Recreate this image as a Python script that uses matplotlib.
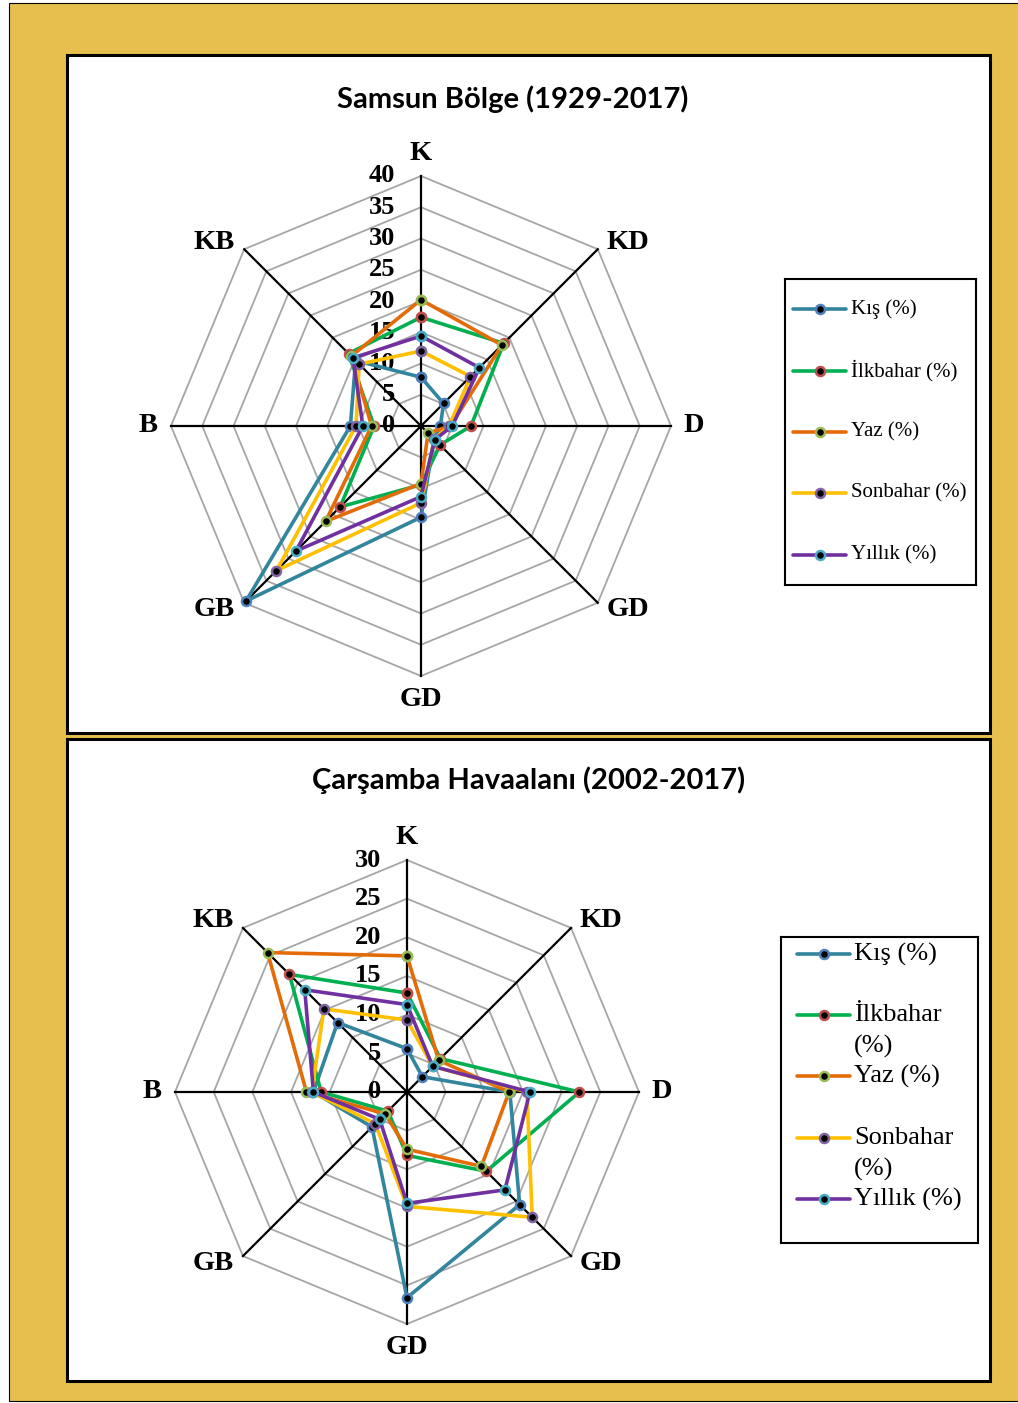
import numpy as np
import matplotlib.pyplot as plt
from matplotlib.patches import Rectangle

W, H = 1018, 1403

directions = ['K', 'KD', 'D', 'GD', 'GD', 'GB', 'B', 'KB']
series_names = ['Kış (%)', 'İlkbahar (%)', 'Yaz (%)', 'Sonbahar (%)', 'Yıllık (%)']
series_names_wrapped = ['Kış (%)', 'İlkbahar\n(%)', 'Yaz (%)', 'Sonbahar\n(%)', 'Yıllık (%)']
line_colors = ['#31859C', '#00B050', '#E36C09', '#FFC000', '#7030A0']
edge_colors = ['#4F81BD', '#C0504D', '#9BBB59', '#8064A2', '#4BACC6']

# Samsun Bölge (1929-2017), order K, KD, D, GD, G, GB, B, KB
samsun_kis = [7.8, 5.1, 3.1, 3.0, 14.6, 39.6, 11.3, 14.8]
samsun_ilkbahar = [17.4, 18.7, 8.0, 4.3, 9.4, 18.3, 7.5, 16.4]
samsun_yaz = [20.2, 18.3, 4.7, 1.6, 9.2, 21.6, 7.9, 15.8]
samsun_sonbahar = [12.0, 11.2, 4.5, 3.0, 12.3, 32.7, 10.4, 14.0]
samsun_yillik = [14.4, 13.2, 5.0, 3.1, 11.3, 28.3, 9.3, 15.4]

# Çarşamba Havaalanı (2002-2017)
carsamba_kis = [5.6, 2.8, 13.3, 20.6, 26.6, 6.4, 12.1, 12.7]
carsamba_ilkbahar = [12.8, 6.1, 22.3, 14.5, 8.2, 3.5, 11.1, 21.5]
carsamba_yaz = [17.6, 5.8, 13.2, 13.6, 7.4, 4.0, 13.0, 25.5]
carsamba_sonbahar = [9.3, 4.7, 15.5, 22.9, 14.8, 5.8, 12.3, 15.2]
carsamba_yillik = [11.3, 4.7, 15.9, 17.9, 14.4, 5.0, 12.1, 18.7]

SERIF = 'Liberation Serif'
LW = 2.6
MS = 6.5


def px_rect(left, top, right, bottom):
    return [left / W, 1 - bottom / H, (right - left) / W, (bottom - top) / H]


def draw_radar(fig, cx, cy, ring_px, rmax, step, series):
    scale = ring_px / rmax
    half = 300
    ax = fig.add_axes(px_rect(cx - half, cy - half, cx + half, cy + half))
    lim = half / scale
    ax.set_xlim(-lim, lim)
    ax.set_ylim(-lim, lim)
    ax.set_axis_off()

    theta = np.deg2rad(90 - 45 * np.arange(len(directions)))
    ux, uy = np.cos(theta), np.sin(theta)
    cux, cuy = np.append(ux, ux[0]), np.append(uy, uy[0])

    for r in np.arange(step, rmax + step, step):
        ax.plot(cux * r, cuy * r, color='#A6A6A6', lw=1.3, zorder=1)
    for x, y in zip(ux, uy):
        ax.plot([0, x * rmax], [0, y * rmax], color='black', lw=1.6, zorder=2)

    for r in np.arange(0, rmax + step, step):
        ax.text(-26 / scale, r, f'{r:g}', ha='right', va='center',
                fontsize=19, fontweight='bold', family=SERIF, zorder=2.5)

    for name, x, y in zip(directions, ux, uy):
        if abs(x) < 1e-6 or abs(y) < 1e-6:
            lx, ly = x * (ring_px + 23), y * (ring_px + 23)
        else:
            lx = np.sign(x) * (ring_px * 0.7071 + 30)
            ly = np.sign(y) * (ring_px * 0.7071 + 7)
        ax.text(lx / scale, ly / scale, name, ha='center', va='center',
                fontsize=20.5, fontweight='bold', family=SERIF)

    for k, vals in enumerate(series):
        v = np.append(vals, vals[0])
        ax.plot(v * cux, v * cuy, color=line_colors[k], lw=LW, marker='o',
                ms=MS, mfc='black', mec=edge_colors[k], mew=1.8, zorder=3 + k)
    return ax


def draw_legend(fig, left, top, right, bottom, names, rows_y, line_x, text_x,
                font_size, line_gap):
    lax = fig.add_axes(px_rect(left, top, right, bottom))
    lax.set_xlim(0, right - left)
    lax.set_ylim(bottom - top, 0)
    lax.set_xticks([])
    lax.set_yticks([])
    for s in lax.spines.values():
        s.set_linewidth(1.5)
    mx = (line_x[0] + line_x[1]) / 2
    for k, (name, y) in enumerate(zip(names, rows_y)):
        lax.plot(line_x, [y, y], color=line_colors[k], lw=LW, solid_capstyle='round')
        lax.plot([mx], [y], marker='o', ms=MS, mfc='black', mec=edge_colors[k], mew=1.8)
        for j, part in enumerate(name.split('\n')):
            lax.text(text_x, y + j * line_gap, part, va='center', ha='left',
                     fontsize=font_size, family=SERIF)
    return lax


fig = plt.figure(figsize=(W / 100, H / 100), dpi=100, facecolor='white')

fig.patches.append(Rectangle((9 / W, 1 - 1401 / H), 1.1, (1401 - 3) / H,
                             transform=fig.transFigure, facecolor='#E6BF4F',
                             edgecolor='black', lw=0.8, zorder=-10))
for top, bottom in [(55, 733), (739, 1381)]:
    fig.patches.append(Rectangle((67 / W, 1 - bottom / H), (990 - 67) / W,
                                 (bottom - top) / H, transform=fig.transFigure,
                                 facecolor='white', edgecolor='black', lw=2.2,
                                 zorder=-5))

fig.text(513 / W, 1 - 99 / H, 'Samsun Bölge (1929-2017)', ha='center', va='center',
         fontsize=21, fontweight='bold', family='Lato')
fig.text(529 / W, 1 - 780 / H, 'Çarşamba Havaalanı (2002-2017)', ha='center',
         va='center', fontsize=21, fontweight='bold', family='Lato')

draw_radar(fig, 421, 426, 250, 40, 5,
           [samsun_kis, samsun_ilkbahar, samsun_yaz, samsun_sonbahar, samsun_yillik])
draw_radar(fig, 407, 1092, 232, 30, 5,
           [carsamba_kis, carsamba_ilkbahar, carsamba_yaz, carsamba_sonbahar,
            carsamba_yillik])

draw_legend(fig, 785, 279, 976, 585, series_names, [30, 92, 153, 214, 276],
            [8, 61], 66, 15, 0)
draw_legend(fig, 781, 937, 978, 1243, series_names_wrapped, [17, 78, 139, 201, 262],
            [16, 69], 73, 19, 31)

fig.savefig('out.png', dpi=100, facecolor='white')
